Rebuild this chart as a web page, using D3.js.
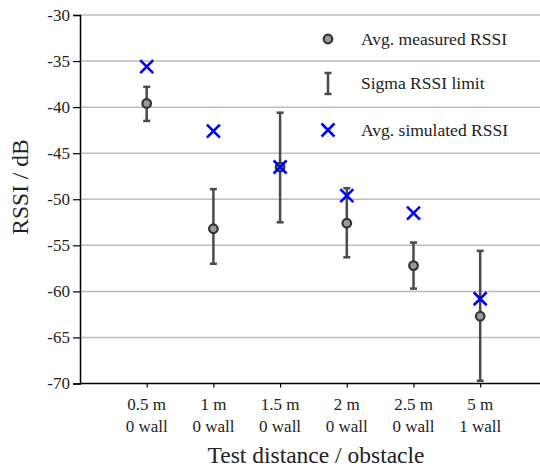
<!DOCTYPE html>
<html><head><meta charset="utf-8">
<script src="https://cdn.jsdelivr.net/npm/d3@7"></script>
<style>body{margin:0;background:#fff}svg{display:block}svg text{font-family:"Liberation Serif","Times New Roman",serif !important}</style>
</head><body><div id="chart"></div>
<script>
const distances = ["0.5 m","1 m","1.5 m","2 m","2.5 m","5 m"];
const obstacles = ["0 wall","0 wall","0 wall","0 wall","0 wall","1 wall"];
const measured = [-39.6,-53.2,-46.5,-52.6,-57.2,-62.7];
const sigmaHigh = [-37.8,-48.9,-40.6,-48.8,-54.7,-55.6];
const sigmaLow = [-41.5,-57.0,-52.5,-56.3,-59.7,-69.7];
const simulated = [-35.6,-42.6,-46.5,-49.6,-51.5,-60.8];
const yTicks = [-30,-35,-40,-45,-50,-55,-60,-65,-70];
const legendLabels = ["Avg. measured RSSI","Sigma RSSI limit","Avg. simulated RSSI"];

const FF="Liberation Serif, Times New Roman, serif";
const W=540,H=469, mLeft=80, mTop=15, mBottom=383.5;
const svg=d3.select("#chart").append("svg").attr("width",W).attr("height",H).attr("font-family",FF);
const x=d3.scaleLinear().domain([0,7]).range([mLeft,mLeft+66.7*7]);
const y=d3.scaleLinear().domain([-70,-30]).range([mBottom,mTop]);

// grid
svg.append("g").selectAll("line").data(yTicks.filter(t=>t!==-70)).join("line")
  .attr("x1",mLeft).attr("x2",W).attr("y1",d=>y(d)).attr("y2",d=>y(d))
  .attr("stroke","#bdbdbd").attr("stroke-width",1.5);

// y axis
const ya=svg.append("g").attr("transform",`translate(${mLeft},0)`)
  .call(d3.axisLeft(y).tickValues(yTicks).tickSize(7).tickPadding(3).tickFormat(d=>d));
ya.attr("font-family",FF).attr("font-size",17);
ya.select(".domain").attr("stroke","#000").attr("stroke-width",1.5);
ya.selectAll(".tick line").attr("stroke","#000").attr("stroke-width",1.2);
ya.selectAll("text").attr("font-size",17).attr("fill","#222").attr("font-family",FF);

// x axis
const xa=svg.append("g").attr("transform",`translate(0,${mBottom})`)
  .call(d3.axisBottom(x).tickValues([1,2,3,4,5,6]).tickSize(4).tickFormat(""));
xa.select(".domain").remove();
svg.append("line").attr("x1",mLeft).attr("x2",W).attr("y1",mBottom).attr("y2",mBottom).attr("stroke","#000").attr("stroke-width",1.5);
xa.selectAll(".tick line").attr("stroke","#000").attr("stroke-width",1.2);
const lab=svg.append("g");
distances.forEach((d,i)=>{
  lab.append("text").attr("x",x(i+1)).attr("y",410).attr("text-anchor","middle").attr("font-size",17).attr("font-family",FF).attr("fill","#222").text(d);
  lab.append("text").attr("x",x(i+1)).attr("y",432).attr("text-anchor","middle").attr("font-size",17).attr("font-family",FF).attr("fill","#222").text(obstacles[i]);
});

// axis titles
svg.append("text").attr("transform","translate(28,187) rotate(-90)").attr("text-anchor","middle").attr("font-size",23.5).attr("font-family",FF).attr("fill","#222").text("RSSI / dB");
svg.append("text").attr("x",316).attr("y",463).attr("text-anchor","middle").attr("font-size",23.5).attr("font-family",FF).attr("fill","#222").text("Test distance / obstacle");

const ec="#4a4a4a";
// error bars
const eb=svg.append("g");
distances.forEach((d,i)=>{
  const cx=x(i+1);
  eb.append("line").attr("x1",cx).attr("x2",cx).attr("y1",y(sigmaHigh[i])).attr("y2",y(sigmaLow[i])).attr("stroke",ec).attr("stroke-width",2.5);
  [sigmaHigh[i],sigmaLow[i]].forEach(v=>eb.append("line").attr("x1",cx-3.5).attr("x2",cx+3.5).attr("y1",y(v)).attr("y2",y(v)).attr("stroke",ec).attr("stroke-width",2.5));
});
// circles
svg.append("g").selectAll("circle").data(measured).join("circle")
  .attr("cx",(d,i)=>x(i+1)).attr("cy",d=>y(d)).attr("r",4.3)
  .attr("fill","#9a9a9a").attr("stroke","#333").attr("stroke-width",2.2);
// X markers
function cross(g,cx,cy,s){
  g.append("path").attr("d",`M${cx-s},${cy-s}L${cx+s},${cy+s}M${cx-s},${cy+s}L${cx+s},${cy-s}`)
   .attr("stroke","#0000ff").attr("stroke-width",2.6).attr("fill","none");
}
const xm=svg.append("g");
simulated.forEach((v,i)=>cross(xm,x(i+1),y(v),6.5));

// legend
const lg=svg.append("g");
lg.append("circle").attr("cx",328).attr("cy",39).attr("r",4.3).attr("fill","#9a9a9a").attr("stroke","#333").attr("stroke-width",2.2);
lg.append("line").attr("x1",328).attr("x2",328).attr("y1",73).attr("y2",94).attr("stroke",ec).attr("stroke-width",2.5);
[73,94].forEach(v=>lg.append("line").attr("x1",324.5).attr("x2",331.5).attr("y1",v).attr("y2",v).attr("stroke",ec).attr("stroke-width",2.5));
cross(lg,328,130,6.5);
[45,89,136].forEach((yy,i)=>lg.append("text").attr("x",361).attr("y",yy).attr("font-size",17.5).attr("font-family",FF).attr("fill","#222").text(legendLabels[i]));
</script></body></html>
